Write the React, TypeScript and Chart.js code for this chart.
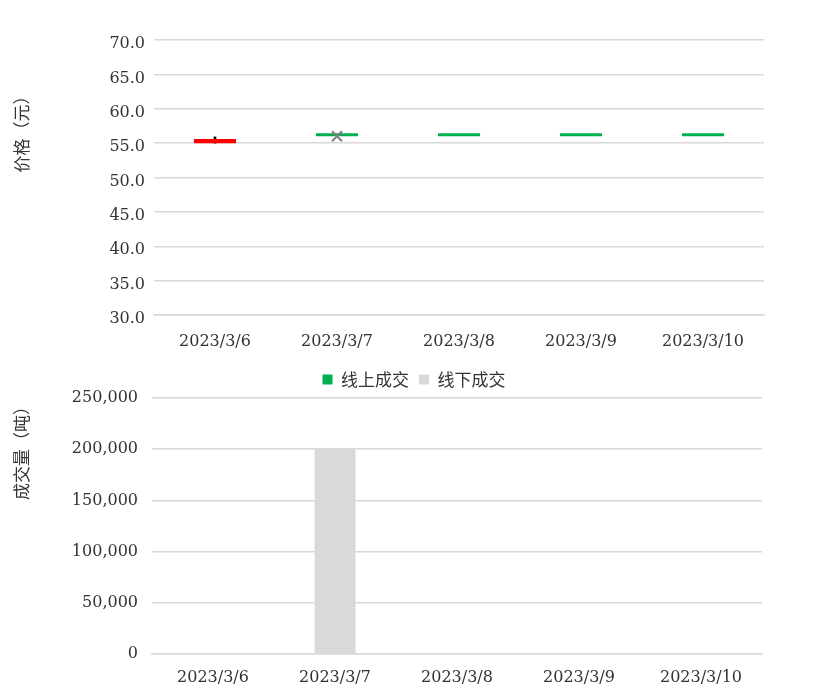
import React, { useEffect, useRef } from 'react';
import { Chart, registerables } from 'chart.js';

Chart.register(...registerables);

// ---- data ----
const dates = ['2023/3/6', '2023/3/7', '2023/3/8', '2023/3/9', '2023/3/10'];
const openPrice = [55.6, 56.0, 56.0, 56.0, 56.0];
const closePrice = [55.0, 56.0, 56.0, 56.0, 56.0];
const highPrice = [55.9, 56.0, 56.0, 56.0, 56.0];
const lowPrice = [55.0, 56.0, 56.0, 56.0, 56.0];
const markPrice = [null, 56.0, null, null, null];
const onlineVolume = [0, 0, 0, 0, 0];
const offlineVolume = [0, 200000, 0, 0, 0];

const priceTitle = '价格（元）';
const volumeTitle = '成交量（吨）';
const onlineLabel = '线上成交';
const offlineLabel = '线下成交';

const TICK_FONT = { family: '"DejaVu Serif", "Liberation Serif", serif', size: 16 };
const CJK_FONT = '"Noto Sans CJK SC", "Noto Sans", sans-serif';
const TEXT = '#333333';
const GRID = '#d9d9d9';
const GREEN = '#00b050';
const RED = '#ff0000';

const axisTitlePlugin = {
  id: 'axisTitle',
  afterDraw(chart: any, _args: any, opts: any) {
    const { ctx } = chart;
    ctx.save();
    ctx.translate(opts.x, opts.y);
    ctx.rotate(-Math.PI / 2);
    ctx.font = `17px ${CJK_FONT}`;
    ctx.fillStyle = TEXT;
    ctx.textAlign = 'center';
    ctx.textBaseline = 'middle';
    ctx.fillText(opts.text, 0, 0);
    ctx.restore();
  },
};

export default function App() {
  const topRef = useRef<HTMLCanvasElement>(null);
  const botRef = useRef<HTMLCanvasElement>(null);

  useEffect(() => {
    const bodyColors = openPrice.map((o, i) => (closePrice[i] < o ? RED : GREEN));
    const top = new Chart(topRef.current as HTMLCanvasElement, {
      type: 'bar',
      data: {
        labels: dates,
        datasets: [
          {
            type: 'line',
            label: '均价',
            data: markPrice as any,
            showLine: false,
            pointStyle: 'crossRot',
            pointRadius: 7,
            pointBorderWidth: 2,
            borderColor: '#7f7f7f',
            backgroundColor: '#7f7f7f',
            order: 0,
          } as any,
          {
            label: '开盘-收盘',
            data: dates.map((_, i) => [openPrice[i], closePrice[i]]) as any,
            backgroundColor: bodyColors,
            minBarLength: 3,
            barPercentage: 0.345,
            categoryPercentage: 1,
            grouped: false,
            order: 1,
          } as any,
          {
            label: '最高-最低',
            data: dates.map((_, i) => (highPrice[i] > lowPrice[i] ? [lowPrice[i], highPrice[i]] : null)) as any,
            backgroundColor: '#000000',
            barThickness: 2,
            grouped: false,
            order: 2,
          } as any,
        ],
      },
      options: {
        animation: false,
        responsive: false,
        layout: { padding: { top: 40, right: 67, left: 0, bottom: 0 } },
        plugins: {
          legend: { display: false },
          tooltip: { enabled: false },
          axisTitle: { text: priceTitle, x: 22, y: 130 },
        } as any,
        scales: {
          x: {
            grid: { display: false, drawTicks: false },
            border: { display: true, color: GRID, width: 1.5 },
            ticks: { font: TICK_FONT, color: TEXT, padding: 17, maxRotation: 0 },
            afterFit: (s: any) => { s.height = 45; },
          },
          y: {
            min: 30,
            max: 70,
            ticks: {
              stepSize: 5,
              font: TICK_FONT,
              color: TEXT,
              padding: 9,
              labelOffset: 4,
              callback: (v: any) => Number(v).toFixed(1),
            },
            grid: { color: GRID, lineWidth: 1.5, drawTicks: false },
            border: { display: false },
            afterFit: (s: any) => { s.width = 154; },
          },
        },
      } as any,
      plugins: [axisTitlePlugin],
    });

    const bot = new Chart(botRef.current as HTMLCanvasElement, {
      type: 'bar',
      data: {
        labels: dates,
        datasets: [
          {
            label: onlineLabel,
            data: onlineVolume,
            backgroundColor: GREEN,
            barPercentage: 0.336,
            categoryPercentage: 1,
          },
          {
            label: offlineLabel,
            data: offlineVolume,
            backgroundColor: GRID,
            barPercentage: 0.336,
            categoryPercentage: 1,
          },
        ],
      },
      options: {
        animation: false,
        responsive: false,
        layout: { padding: { top: 1, right: 69, left: 66, bottom: 0 } },
        plugins: {
          legend: {
            position: 'top',
            labels: {
              boxWidth: 10,
              boxHeight: 10,
              padding: 10,
              color: TEXT,
              font: { family: CJK_FONT, size: 17 },
            },
          },
          tooltip: { enabled: false },
          axisTitle: { text: volumeTitle, x: 22, y: 89 },
        } as any,
        scales: {
          x: {
            stacked: true,
            grid: { display: false, drawTicks: false },
            border: { display: true, color: GRID, width: 1.5 },
            ticks: { font: TICK_FONT, color: TEXT, padding: 14, maxRotation: 0 },
            afterFit: (s: any) => { s.height = 41; },
          },
          y: {
            stacked: true,
            min: 0,
            max: 250000,
            ticks: {
              stepSize: 50000,
              font: TICK_FONT,
              color: TEXT,
              padding: 14,
              callback: (v: any) => Number(v).toLocaleString('en-US'),
            },
            grid: { color: GRID, lineWidth: 1.5, drawTicks: false },
            border: { display: false },
            afterFit: (s: any) => { s.width = 152 - 66; },
          },
        },
      } as any,
      plugins: [axisTitlePlugin],
    });

    return () => {
      top.destroy();
      bot.destroy();
    };
  }, []);

  return (
    <div style={{ position: 'absolute', left: 0, top: 0, width: 831, height: 695, background: '#ffffff' }}>
      <canvas ref={topRef} width={831} height={360} style={{ position: 'absolute', left: 0, top: 0 }} />
      <canvas ref={botRef} width={831} height={335} style={{ position: 'absolute', left: 0, top: 360 }} />
    </div>
  );
}
